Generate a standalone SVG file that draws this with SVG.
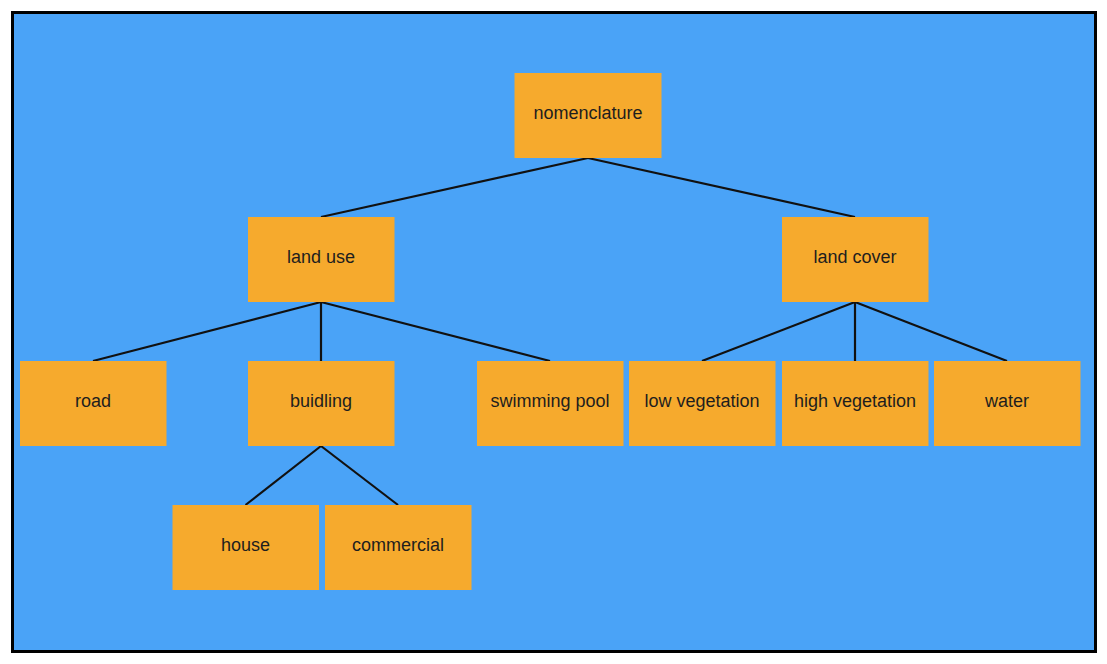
<svg xmlns="http://www.w3.org/2000/svg" width="1107" height="664" viewBox="0 0 1107 664">
<style>
.n rect{fill:#f6aa2d;}
.n text{font-family:"Liberation Sans",Arial,sans-serif;font-size:18px;fill:#1e1e1e;text-anchor:middle;dominant-baseline:central;}
.c line{stroke:#111;stroke-width:2.2;}
</style>
<rect x="0" y="0" width="1107" height="664" fill="#fff"/>
<rect x="12.5" y="12.5" width="1083" height="639" fill="#4aa3f7" stroke="#000" stroke-width="3"/>
<g id="connectors" class="c">
<line x1="588" y1="158" x2="321" y2="217"/>
<line x1="588" y1="158" x2="855" y2="217"/>
<line x1="321" y1="302" x2="93" y2="361"/>
<line x1="321" y1="302" x2="321" y2="361"/>
<line x1="321" y1="302" x2="550" y2="361"/>
<line x1="855" y1="302" x2="702" y2="361"/>
<line x1="855" y1="302" x2="855" y2="361"/>
<line x1="855" y1="302" x2="1007" y2="361"/>
<line x1="321" y1="446" x2="245.5" y2="505"/>
<line x1="321" y1="446" x2="398" y2="505"/>
</g>
<g id="nomenclature" class="n"><rect x="514.5" y="73" width="147" height="85"/><text x="588" y="113">nomenclature</text></g>
<g id="land-use" class="n"><rect x="248" y="217" width="146.5" height="85"/><text x="321" y="257">land use</text></g>
<g id="land-cover" class="n"><rect x="782" y="217" width="146.5" height="85"/><text x="855" y="257">land cover</text></g>
<g id="road" class="n"><rect x="20" y="361" width="146.5" height="85"/><text x="93" y="401">road</text></g>
<g id="buidling" class="n"><rect x="248" y="361" width="146.5" height="85"/><text x="321" y="401">buidling</text></g>
<g id="swimming-pool" class="n"><rect x="477" y="361" width="146.5" height="85"/><text x="550" y="401">swimming pool</text></g>
<g id="low-vegetation" class="n"><rect x="629" y="361" width="146.5" height="85"/><text x="702" y="401">low vegetation</text></g>
<g id="high-vegetation" class="n"><rect x="782" y="361" width="146.5" height="85"/><text x="855" y="401">high vegetation</text></g>
<g id="water" class="n"><rect x="934" y="361" width="146.5" height="85"/><text x="1007" y="401">water</text></g>
<g id="house" class="n"><rect x="172.5" y="505" width="146.5" height="85"/><text x="245.5" y="545">house</text></g>
<g id="commercial" class="n"><rect x="325" y="505" width="146.5" height="85"/><text x="398" y="545">commercial</text></g>
</svg>
